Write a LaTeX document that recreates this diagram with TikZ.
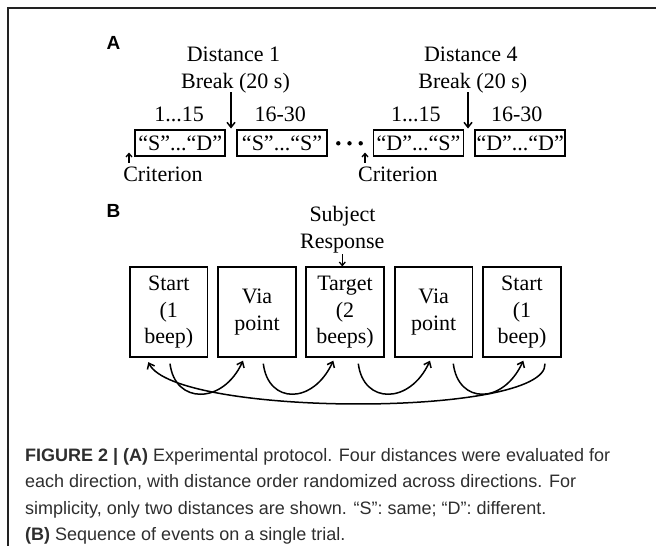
\documentclass[tikz,border=0pt]{standalone}
\usepackage{fontspec}
\setmainfont{Liberation Serif}
\setsansfont{Liberation Sans}
\usetikzlibrary{arrows.meta}
\definecolor{captxt}{HTML}{2E2E2E}
\definecolor{framec}{HTML}{222222}
\tikzset{
  lbl/.style={font=\fontsize{22}{26.5}\selectfont, inner sep=0pt, anchor=base},
  panel/.style={font=\sffamily\bfseries\fontsize{19}{22}\selectfont, inner sep=0pt, anchor=base west},
  seqbox/.style={draw, line width=1.7pt, inner sep=0pt, minimum width=90pt, minimum height=26pt,
                 font=\fontsize{22}{26.5}\selectfont},
  evbox/.style={draw, line width=1.7pt, inner sep=0pt, minimum width=77.5pt, minimum height=90pt,
                text width=77pt, align=center, font=\fontsize{22}{26.6}\selectfont},
  arr/.style={line width=1.5pt, -{Straight Barb[length=5pt,width=8pt,line width=1.5pt]}},
  sarr/.style={line width=1.3pt, -{Straight Barb[length=3.5pt,width=6pt,line width=1.3pt]}},
  carr/.style={line width=1.5pt, -{Straight Barb[length=5pt,width=8pt,line width=1.5pt]}},
  captext/.style={font=\sffamily\fontsize{18}{25}\selectfont, text=captxt, inner sep=0pt, anchor=base west},
}
\begin{document}
\begin{tikzpicture}[x=1pt,y=-1pt]
\useasboundingbox (0,0) rectangle (656,546);
\draw[line width=1.8pt, framec] (8.3,546) -- (8.3,8.3) -- (656,8.3);

% Panel A
\node[panel] (pa) at (106.5,49.5) {A};
\node[lbl] (d1) at (233.5,61.8) {Distance 1};
\node[lbl] (br1) at (235.5,88.5) {Break (20 s)};
\node[lbl] (n1a) at (179,121) {1...15};
\node[lbl] (n1b) at (280.3,121) {16-30};
\node[seqbox] (b1) at (180.2,143) {“S”...“D”};
\node[seqbox] (b2) at (282,143) {“S”...“S”};
\coordinate (a1s) at (231,92);
\coordinate (a1e) at (231,128.5);
\draw[arr] (a1s) -- (a1e);
\node[lbl] (cr1) at (163,181.7) {Criterion};
\coordinate (c1s) at (129,162.5);
\coordinate (c1e) at (129,152.5);
\draw[sarr] (c1s) -- (c1e);

\foreach \xx/\nm in {338.3/dA,349.5/dB,360.7/dC}
  \fill (\xx,143.3) circle (2.2pt) coordinate (\nm);

\node[lbl] (d4) at (470.8,61.8) {Distance 4};
\node[lbl] (br4) at (472.8,88.5) {Break (20 s)};
\node[lbl] (n4a) at (415.8,121) {1...15};
\node[lbl] (n4b) at (516.7,121) {16-30};
\node[seqbox] (b3) at (418.5,143) {“D”...“S”};
\node[seqbox] (b4) at (520.2,143) {“D”...“D”};
\coordinate (a4s) at (468,92);
\coordinate (a4e) at (468,128.5);
\draw[arr] (a4s) -- (a4e);
\node[lbl] (cr4) at (397.8,181.7) {Criterion};
\coordinate (c4s) at (365,162.5);
\coordinate (c4e) at (365,152.5);
\draw[sarr] (c4s) -- (c4e);

% Panel B
\node[panel] (pb) at (106.5,217) {B};
\node[lbl] (subj) at (342.5,221.7) {Subject};
\node[lbl] (resp) at (342.3,248.3) {Response};

\node[evbox] (e1) at (168.8,312.3) {Start\\(1\\beep)};
\node[evbox] (e2) at (257,312.3) {Via\\point};
\node[evbox] (e3) at (345,312.3) {Target\\(2\\beeps)};
\node[evbox] (e4) at (433.7,312.3) {Via\\point};
\node[evbox] (e5) at (522,312.3) {Start\\(1\\beep)};

\draw[sarr] ([yshift=-1pt]resp.south) -- (resp.south |- e3.north);

\draw[carr] ([shift={(1.2,5.5)}]e1.south) .. controls +(5,41) and +(-20,44) .. ([shift={(-14,2.5)}]e2.south);
\draw[carr] ([shift={(6.3,5.5)}]e2.south) .. controls +(5,41) and +(-20,44) .. ([shift={(-11.7,2.5)}]e3.south);
\draw[carr] ([shift={(13.3,5.5)}]e3.south) .. controls +(5,41) and +(-20,44) .. ([shift={(-3.7,2.5)}]e4.south);
\draw[carr] ([shift={(19.6,5.5)}]e4.south) .. controls +(5,41) and +(-20,44) .. ([shift={(1.3,2.5)}]e5.south);
\draw[carr] ([shift={(23,5.5)}]e5.south) .. controls +(3,54) and +(27,55) .. ([shift={(-20.5,4)}]e1.south);

% Caption
\node[captext] (l1) at (25,461) {\bfseries FIGURE 2 | (A)\mdseries{} Experimental protocol. Four distances were evaluated for};
\node[captext] (l2) at (25,487.5) {each direction, with distance order randomized across directions. For};
\node[captext] (l3) at (25,514) {simplicity, only two distances are shown. “S”: same; “D”: different.};
\node[captext] (l4) at (25,540.5) {\bfseries (B)\mdseries{} Sequence of events on a single trial.};
\end{tikzpicture}
\end{document}
